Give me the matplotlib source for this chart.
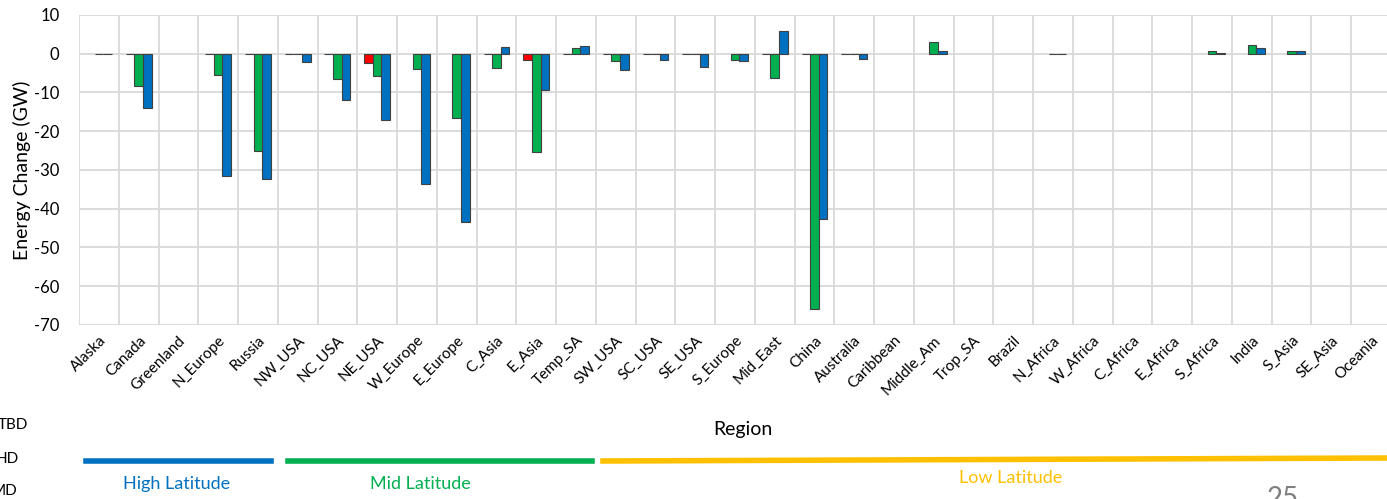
import matplotlib
matplotlib.use("Agg")
import matplotlib.pyplot as plt
from matplotlib.lines import Line2D
import numpy as np

plt.rcParams['font.family'] = ['Lato', 'DejaVu Sans']
plt.rcParams['axes.unicode_minus'] = False

nan = np.nan
regions = ['Alaska', 'Canada', 'Greenland', 'N_Europe', 'Russia', 'NW_USA', 'NC_USA',
           'NE_USA', 'W_Europe', 'E_Europe', 'C_Asia', 'E_Asia', 'Temp_SA', 'SW_USA',
           'SC_USA', 'SE_USA', 'S_Europe', 'Mid_East', 'China', 'Australia', 'Caribbean',
           'Middle_Am', 'Trop_SA', 'Brazil', 'N_Africa', 'W_Africa', 'C_Africa', 'E_Africa',
           'S_Africa', 'India', 'S_Asia', 'SE_Asia', 'Oceania']

red_vals = [nan, 0, nan, 0, 0, 0, 0, -2.4, nan, nan, 0, -1.5, 0, 0, 0, 0, nan, 0, 0, 0,
            nan, nan, nan, nan, nan, nan, nan, nan, nan, nan, nan, nan, nan]
green_vals = [0, -8.4, nan, -5.5, -25.0, 0, -6.5, -5.8, -3.9, -16.6, -3.6, -25.4, 1.4, -2.0,
              0, 0, -1.5, -6.3, -66.0, 0, nan, 2.9, nan, nan, 0, nan, nan, nan, 0.8, 2.3,
              0.8, nan, nan]
blue_vals = [0, -13.9, nan, -31.5, -32.2, -2.2, -11.9, -17.0, -33.5, -43.4, 1.7, -9.3, 2.0,
             -4.1, -1.7, -3.4, -2.0, 5.8, -42.7, -1.3, nan, 0.6, nan, nan, 0, nan, nan, nan,
             0.1, 1.6, 0.8, nan, nan]

series = [(red_vals, '#FF0000', -1), (green_vals, '#00B050', 0), (blue_vals, '#0070C0', 1)]

fig = plt.figure(figsize=(13.87, 4.99), dpi=100)
ax = fig.add_axes([0.05696, 0.3487, 0.9459, 0.6213])

x = np.arange(len(regions))
w = 0.217
for vals, col, off in series:
    v = np.array(vals, dtype=float)
    m = ~np.isnan(v)
    ax.bar(x[m] + off * w, v[m], width=w, color=col, edgecolor='#404040', linewidth=0.8,
           zorder=3)

ax.set_xlim(-0.5, len(regions) - 0.5)
ax.set_ylim(-70, 10)
ax.set_yticks(np.arange(-70, 11, 10))
ax.set_xticks(x)
ax.set_xticklabels(regions, rotation=45, ha='right', rotation_mode='anchor', fontsize=11)
ax.set_xticks(np.arange(-0.5, len(regions), 1), minor=True)
ax.tick_params(axis='x', which='both', length=0, pad=6)
ax.tick_params(axis='y', length=0, labelsize=12, pad=14)
ax.grid(True, axis='y', color='#D9D9D9', linewidth=1.3, zorder=0)
ax.grid(True, axis='x', which='minor', color='#D9D9D9', linewidth=1.3, zorder=0)
ax.grid(False, axis='x', which='major')
for s in ax.spines.values():
    s.set_visible(False)
ax.set_ylabel('Energy Change (GW)', fontsize=14, labelpad=2)

# region text below the chart
H = 499.0
W = 1387.0
def fy(py):
    return 1 - py / H
def fx(px):
    return px / W

fig.text(fx(743), fy(430), 'Region', fontsize=14, ha='center', va='center')

fig.add_artist(Line2D([fx(86), fx(271)], [fy(461), fy(461)], color='#0070C0', linewidth=4))
fig.add_artist(Line2D([fx(288), fx(592)], [fy(461), fy(461)], color='#00B050', linewidth=4))
fig.add_artist(Line2D([fx(603), fx(1387)], [fy(461), fy(458)], color='#FFC000', linewidth=4))
fig.text(fx(177), fy(484), 'High Latitude', fontsize=13, color='#0070C0', ha='center', va='center')
fig.text(fx(420), fy(484), 'Mid Latitude', fontsize=13, color='#00B050', ha='center', va='center')
fig.text(fx(1011), fy(478), 'Low Latitude', fontsize=13, color='#FFC000', ha='center', va='center')

fig.text(fx(-2), fy(425), 'TBD', fontsize=11, ha='left', va='center')
fig.text(fx(-4), fy(459), 'HD', fontsize=11, ha='left', va='center')
fig.text(fx(-8), fy(491), 'MD', fontsize=11, ha='left', va='center')
fig.text(fx(1283), fy(486), '25', fontsize=20, color='#7F7F7F', ha='center', va='top')

fig.savefig('out.png', dpi=100)
